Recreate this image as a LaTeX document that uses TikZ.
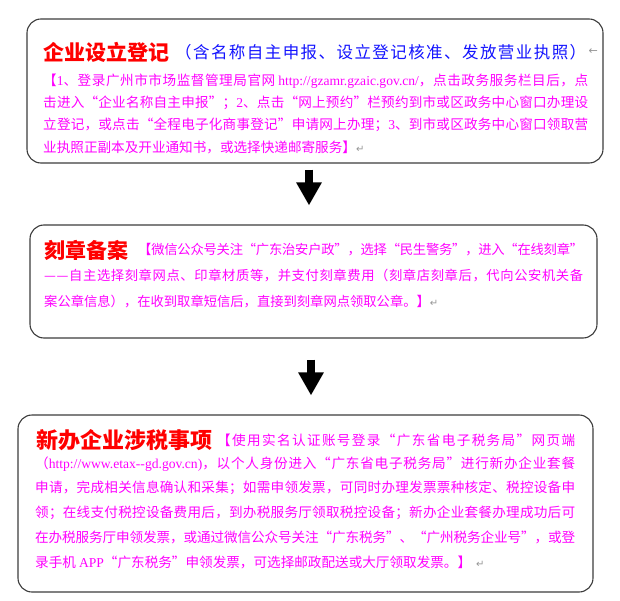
\documentclass[tikz,border=0pt]{standalone}
\usepackage{fontspec}
\setmainfont{Noto Sans CJK SC}
\newfontfamily\latf{Liberation Serif}
\newfontfamily\symf{DejaVu Sans}
\usetikzlibrary{arrows.meta,positioning}
\makeatletter
\count@="3000
\loop\XeTeXcharclass\count@=1 \advance\count@ 1 \ifnum\count@<"3040 \repeat
\count@="4E00
\loop\XeTeXcharclass\count@=1 \advance\count@ 1 \ifnum\count@<"A000 \repeat
\count@="FF00
\loop\XeTeXcharclass\count@=1 \advance\count@ 1 \ifnum\count@<"FFF0 \repeat
\makeatother
\XeTeXcharclass"2014=1
\XeTeXcharclass"201C=1
\XeTeXcharclass"201D=1
\newcommand{\Cg}{\hskip 0pt plus 2pt minus 0.6pt\relax}
\XeTeXinterchartoks 0 1 = {\Cg}
\XeTeXinterchartoks 1 0 = {\Cg}
\XeTeXinterchartoks 1 1 = {\Cg}
\XeTeXinterchartokenstate=1
\definecolor{ttlred}{RGB}{255,0,0}
\definecolor{subblue}{RGB}{20,20,255}
\definecolor{bodymag}{RGB}{255,0,255}
\definecolor{markgray}{RGB}{150,150,150}
\definecolor{boxline}{RGB}{60,60,60}
\newcommand{\Jline}[2]{\makebox[#1][s]{#2}}
\newcommand{\Lt}[1]{{\latf #1}}
\newcommand{\Rmark}{{\symf\fontsize{10}{10}\selectfont\textcolor{markgray}{↵}}}
\tikzset{
  boxs/.style={draw=boxline, line width=1.1pt, rounded corners=14pt, fill=white},
  ttl/.style={text=ttlred, font=\fontsize{21}{21}\selectfont\bfseries, inner sep=0pt, anchor=west},
  subt/.style={text=subblue, font=\fontsize{16.5}{16.5}\selectfont, inner sep=0pt, anchor=west},
  body/.style={text=bodymag, font=\fontsize{13.6}{13.6}\selectfont, inner sep=0pt, anchor=west},
  rmk/.style={text=markgray, font=\symf\fontsize{11}{11}\selectfont, inner sep=0pt},
  blkarr/.style={-{Triangle[width=24pt,length=23pt]}, line width=8pt, black},
}

\begin{document}
\begin{tikzpicture}[x=1pt,y=-1pt]
  \useasboundingbox (0,0) rectangle (620,601);
  \node[boxs, minimum width=576pt, minimum height=144pt] (b1) at (315,91) {};
  \node[boxs, minimum width=567pt, minimum height=113pt] (b2) at (313.5,281.5) {};
  \node[boxs, minimum width=575pt, minimum height=177pt] (b3) at (305.5,503.5) {};

  \node[ttl] (t1) at (43,52) {企业设立登记};
  \node[subt] (s1) at (175,52) {\Jline{411pt}{（含名称自主申报、设立登记核准、发放营业执照）}};
  \node[rmk, right=2pt of s1] (m0) {←};
  \node[body] (l11) at (43,81) {\Jline{545pt}{【\Lt{1}、登录广州市市场监督管理局官网\hspace{3pt}\Lt{http://gzamr.gzaic.gov.cn/}，点击政务服务栏目后，点}};
  \node[body] (l12) at (43,103) {\Jline{545pt}{击进入“企业名称自主申报”；\Lt{2}、点击“网上预约”栏预约到市或区政务中心窗口办理设}};
  \node[body] (l13) at (43,125) {\Jline{545pt}{立登记，或点击“全程电子化商事登记”申请网上办理；\Lt{3}、到市或区政务中心窗口领取营}};
  \node[body] (l14) at (43,147) {业执照正副本及开业通知书，或选择快递邮寄服务】\Rmark};

  \node[ttl] (t2) at (44,250) {刻章备案};
  \node[body, font=\fontsize{13.3}{13.3}\selectfont] (l21) at (138,250) {\Jline{445pt}{【微信公众号关注“广东治安户政”，选择“民生警务”，进入“在线刻章”}};
  \node[body, font=\fontsize{13.3}{13.3}\selectfont] (l22) at (44,276) {\Jline{539pt}{——自主选择刻章网点、印章材质等，并支付刻章费用（刻章店刻章后，代向公安机关备}};
  \node[body, font=\fontsize{13.3}{13.3}\selectfont] (l23) at (44,302) {案公章信息），在收到取章短信后，直接到刻章网点领取公章。】\Rmark};

  \node[ttl, font=\fontsize{22}{22}\selectfont\bfseries] (t3) at (36,440) {新办企业涉税事项};
  \node[body] (l31) at (217,440) {\Jline{358pt}{【使用实名认证账号登录“广东省电子税务局”网页端}};
  \node[body] (l32) at (35,464) {\Jline{540pt}{（\Lt{http://www.etax-{}-gd.gov.cn)}，以个人身份进入“广东省电子税务局”进行新办企业套餐}};
  \node[body] (l33) at (35,488) {\Jline{540pt}{申请，完成相关信息确认和采集；如需申领发票，可同时办理发票票种核定、税控设备申}};
  \node[body] (l34) at (35,513) {\Jline{540pt}{领；在线支付税控设备费用后，到办税服务厅领取税控设备；新办企业套餐办理成功后可}};
  \node[body] (l35) at (35,537) {\Jline{540pt}{在办税服务厅申领发票，或通过微信公众号关注“广东税务”、“广州税务企业号”，或登}};
  \node[body] (l36) at (35,562) {录手机 \Lt{APP}“广东税务”申领发票，可选择邮政配送或大厅领取发票。】\hspace{5pt}\Rmark};

  \draw[blkarr] ([xshift=-6pt,yshift=-6pt]b1.south) -- ([xshift=-4.5pt,yshift=19pt]b2.north);
  \draw[blkarr] ([xshift=-2.5pt,yshift=-21pt]b2.south) -- ([xshift=5.5pt,yshift=19pt]b3.north);
\end{tikzpicture}
\end{document}
